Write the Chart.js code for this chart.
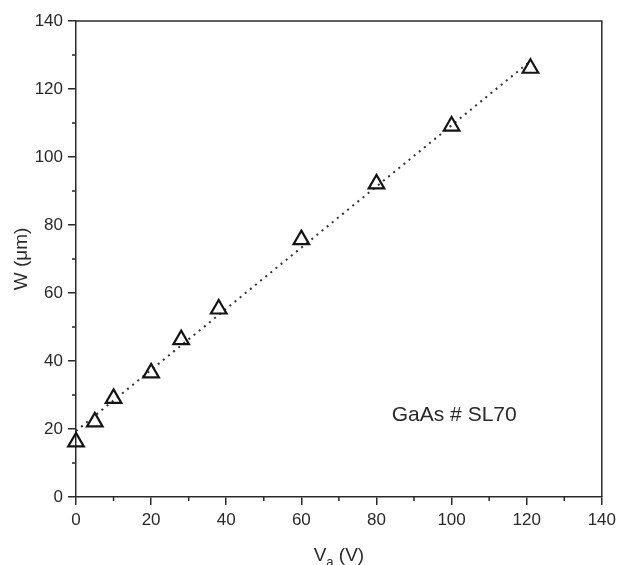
<!DOCTYPE html>
<html>
<head>
<meta charset="utf-8">
<script src="https://cdn.jsdelivr.net/npm/chart.js@4/dist/chart.umd.min.js"></script>
<style>
  html, body { margin: 0; padding: 0; background: #fff; }
  #wrap { width: 621px; height: 565px; position: relative; }
</style>
</head>
<body>
<div id="wrap"><canvas id="c" width="621" height="565"></canvas></div>
<script>
// Data
const voltage = [0, 5, 10, 20, 28, 38, 60, 80, 100, 121];
const width = [16.2, 22.1, 29.0, 36.5, 46.3, 55.3, 75.7, 92.1, 109.1, 126.1];
const fitX = [0, 121];
const fitY = [19.4, 128.2];
const xTicks = [0, 20, 40, 60, 80, 100, 120, 140];
const yTicks = [0, 20, 40, 60, 80, 100, 120, 140];
const minorX = [10, 30, 50, 70, 90, 110, 130];
const minorY = [10, 30, 50, 70, 90, 110, 130];
const sampleLabel = 'GaAs # SL70';
const labelPos = [100.7, 24];

const FONT = '"Liberation Sans", Arial, sans-serif';
const INK = '#2a2a2a';

const decor = {
  id: 'decor',
  afterDraw(chart) {
    const ctx = chart.ctx;
    const a = chart.chartArea;
    const xs = chart.scales.x, ys = chart.scales.y;
    ctx.save();
    ctx.strokeStyle = INK;
    ctx.lineWidth = 1.5;
    // top & right frame
    ctx.beginPath();
    ctx.moveTo(a.left, a.top); ctx.lineTo(a.right, a.top); ctx.lineTo(a.right, a.bottom);
    ctx.stroke();
    // minor ticks
    ctx.beginPath();
    minorX.forEach(v => { const p = xs.getPixelForValue(v); ctx.moveTo(p, a.bottom); ctx.lineTo(p, a.bottom + 4); });
    minorY.forEach(v => { const p = ys.getPixelForValue(v); ctx.moveTo(a.left, p); ctx.lineTo(a.left - 4, p); });
    ctx.stroke();
    // sample annotation
    ctx.fillStyle = INK;
    ctx.font = '21px ' + FONT;
    ctx.textAlign = 'center';
    ctx.textBaseline = 'middle';
    ctx.fillText(sampleLabel, xs.getPixelForValue(labelPos[0]), ys.getPixelForValue(labelPos[1]));
    // x title with subscript
    const cx = (a.left + a.right) / 2;
    const base = 561;
    ctx.textBaseline = 'alphabetic';
    ctx.textAlign = 'left';
    const big = '19px ' + FONT, small = '13px ' + FONT;
    ctx.font = big; const wV = ctx.measureText('V').width;
    ctx.font = small; const wa = ctx.measureText('a').width;
    ctx.font = big; const wr = ctx.measureText(' (V)').width;
    let x0 = cx - (wV + wa + wr) / 2;
    ctx.font = big; ctx.fillText('V', x0, base);
    ctx.font = small; ctx.fillText('a', x0 + wV, base + 5);
    ctx.font = big; ctx.fillText(' (V)', x0 + wV + wa, base);
    // y title
    ctx.save();
    ctx.translate(22, (a.top + a.bottom) / 2);
    ctx.rotate(-Math.PI / 2);
    ctx.textAlign = 'center';
    ctx.textBaseline = 'middle';
    ctx.font = big;
    ctx.fillText('W (\u03bcm)', 0, 0);
    ctx.restore();
    ctx.restore();
  }
};

new Chart(document.getElementById('c'), {
  type: 'scatter',
  data: {
    datasets: [
      {
        label: 'fit',
        data: fitX.map((x, i) => ({ x, y: fitY[i] })),
        showLine: true,
        borderColor: '#333',
        borderWidth: 2,
        borderDash: [2, 4.6],
        pointRadius: 0,
        clip: false,
        order: 2
      },
      {
        label: 'W',
        data: voltage.map((x, i) => ({ x, y: width[i] })),
        pointStyle: 'triangle',
        pointRadius: 9,
        pointBorderWidth: 2.2,
        borderColor: '#151515',
        backgroundColor: 'rgba(0,0,0,0)',
        showLine: false,
        clip: false,
        order: 1
      }
    ]
  },
  options: {
    responsive: false,
    animation: false,
    devicePixelRatio: 1,
    layout: { padding: { top: 21, right: 18, left: 0, bottom: 0 } },
    plugins: { legend: { display: false }, tooltip: { enabled: false } },
    scales: {
      x: {
        type: 'linear', min: 0, max: 140,
        afterFit(s) { s.height = 68; },
        afterBuildTicks(s) { s.ticks = xTicks.map(v => ({ value: v })); },
        grid: { drawOnChartArea: false, drawTicks: true, tickLength: 8, color: INK, lineWidth: 1.5 },
        border: { display: true, color: INK, width: 1.5 },
        ticks: { font: { size: 17, family: FONT }, color: INK, padding: 5, maxRotation: 0 }
      },
      y: {
        type: 'linear', min: 0, max: 140,
        afterFit(s) { s.width = 76; },
        afterBuildTicks(s) { s.ticks = yTicks.map(v => ({ value: v })); },
        grid: { drawOnChartArea: false, drawTicks: true, tickLength: 8, color: INK, lineWidth: 1.5 },
        border: { display: true, color: INK, width: 1.5 },
        ticks: { font: { size: 17, family: FONT }, color: INK, padding: 5 }
      }
    }
  },
  plugins: [decor]
});
</script>
</body>
</html>
